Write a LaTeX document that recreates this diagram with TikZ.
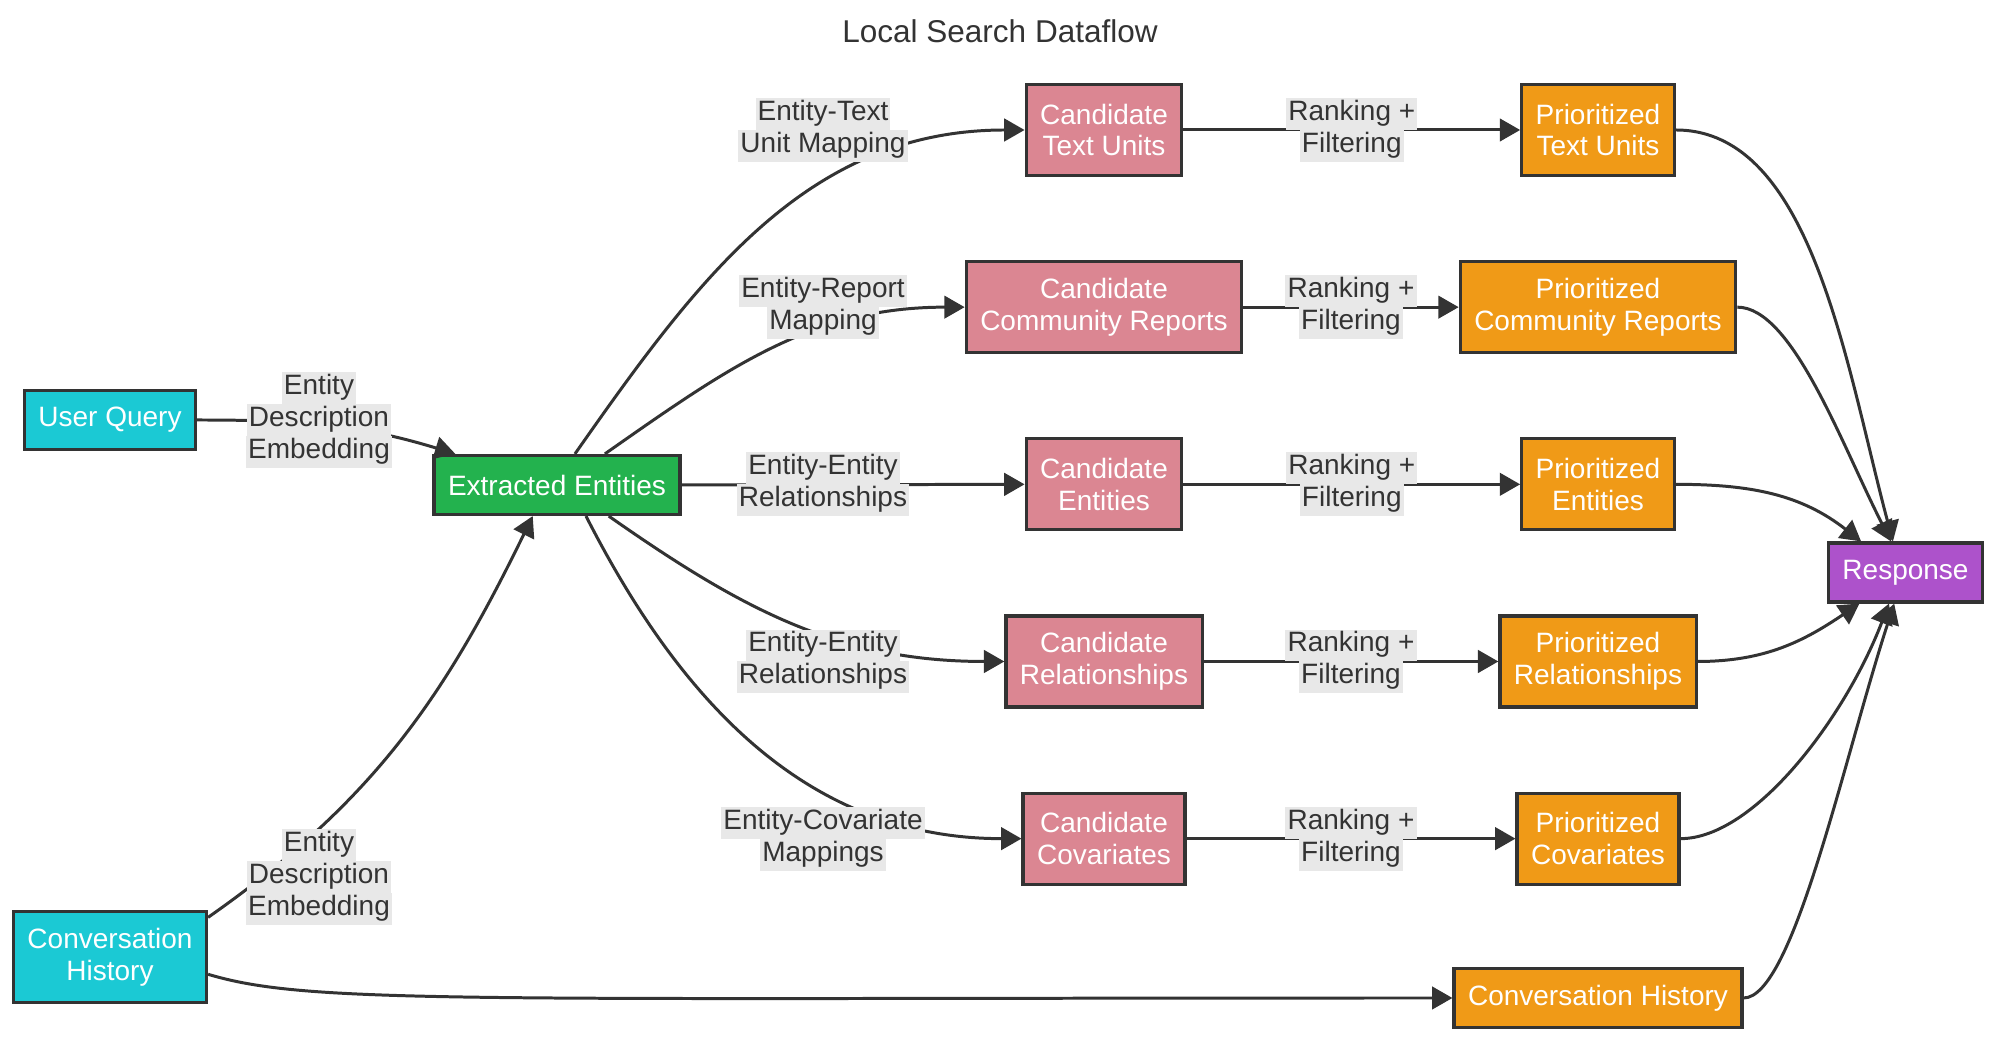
\documentclass[tikz,border=0pt]{standalone}
\usepackage{fontspec}
\setmainfont{Liberation Sans}
\usepackage{xcolor}
\usetikzlibrary{positioning,arrows.meta,calc}

\definecolor{qcyan}{HTML}{1BC9D4}
\definecolor{egreen}{HTML}{23B24E}
\definecolor{cpink}{HTML}{DB8692}
\definecolor{porange}{HTML}{F09A17}
\definecolor{rpurple}{HTML}{AD52CB}
\definecolor{linegray}{HTML}{333333}
\definecolor{lblbg}{HTML}{E8E8E8}

\newcommand{\lbl}[1]{{\setlength{\fboxsep}{0pt}\colorbox{lblbg}{\hspace{0.6pt}\strut #1\hspace{0.6pt}}}}

\begin{document}
\begin{tikzpicture}[>={Triangle[length=5.8pt,width=6.4pt]},
  every node/.style={font=\fontsize{7.97pt}{9.1pt}\selectfont},
  box/.style={draw=linegray,line width=0.9pt,rectangle,inner xsep=0.14cm,inner ysep=0pt,minimum height=0.59cm,align=center,text=white},
  tall/.style={box,minimum height=0.91cm},
  flow/.style={->,draw=linegray,line width=0.85pt},
  elabel/.style={inner sep=0pt,align=center,text=linegray}]
  % page
  \fill[white] (0,0) rectangle (20,10.45);
  \useasboundingbox (0,0) rectangle (20,10.45);

  \node[font=\fontsize{8.97pt}{10pt}\selectfont,text=linegray] (title) at (10.0,10.14) {Local Search Dataflow};

  % Inputs (left)
  \node[box,fill=qcyan] (uq) at (1.10,6.25) {User Query};
  \node[tall,fill=qcyan] (chl) at (1.10,0.88) {Conversation\\History};
  \node[box,fill=egreen] (ee) at (5.57,5.60) {Extracted Entities};

  % Candidates (middle)
  \node[tall,fill=cpink] (ctu) at (11.04,9.15) {Candidate\\Text Units};
  \node[tall,fill=cpink,below=0.83cm of ctu] (ccr) {Candidate\\Community Reports};
  \node[tall,fill=cpink,below=0.83cm of ccr] (ce) {Candidate\\Entities};
  \node[tall,fill=cpink,below=0.83cm of ce] (cr) {Candidate\\Relationships};
  \node[tall,fill=cpink,below=0.83cm of cr] (ccov) {Candidate\\Covariates};

  % Prioritized (right)
  \coordinate (pcol) at (15.98,0);
  \node[tall,fill=porange] (ptu) at (pcol |- ctu) {Prioritized\\Text Units};
  \node[tall,fill=porange] (pcr) at (pcol |- ccr) {Prioritized\\Community Reports};
  \node[tall,fill=porange] (pe) at (pcol |- ce) {Prioritized\\Entities};
  \node[tall,fill=porange] (pr) at (pcol |- cr) {Prioritized\\Relationships};
  \node[tall,fill=porange] (pcov) at (pcol |- ccov) {Prioritized\\Covariates};
  \node[box,fill=porange] (chr) at (15.98,0.47) {Conversation History};

  \node[box,fill=rpurple] (resp) at (19.055,4.725) {Response};

  % label columns
  \coordinate (qc) at (3.19,0);
  \coordinate (lc) at (8.23,0);

  % Connections
  \draw[flow] (uq.east) to[out=0,in=163] (ee.163)
    node[elabel] at (qc |- uq) {\lbl{Entity}\\\lbl{Description}\\\lbl{Embedding}};
  \draw[flow] (chl.22) to[out=35,in=-116] (ee.232)
    node[elabel] at (3.19,1.68) {\lbl{Entity}\\\lbl{Description}\\\lbl{Embedding}};
  \draw[flow] (ee.60) to[out=55,in=180] (ctu.west)
    node[elabel] at (lc |- ctu) {\lbl{Entity-Text}\\\lbl{Unit Mapping}};
  \draw[flow] (ee.33) to[out=35,in=180] (ccr.west)
    node[elabel] at (lc |- ccr) {\lbl{Entity-Report}\\\lbl{Mapping}};
  \draw[flow] (ee.east) -- (ce.west)
    node[elabel] at (lc |- ce) {\lbl{Entity-Entity}\\\lbl{Relationships}};
  \draw[flow] (ee.-31) to[out=-35,in=180] (cr.west)
    node[elabel] at (lc |- cr) {\lbl{Entity-Entity}\\\lbl{Relationships}};
  \draw[flow] (ee.-47) to[out=-63,in=180] (ccov.west)
    node[elabel] at (lc |- ccov) {\lbl{Entity-Covariate}\\\lbl{Mappings}};

  \foreach \c/\p in {ctu/ptu,ccr/pcr,ce/pe,cr/pr,ccov/pcov}
    \draw[flow] (\c.east) -- (\p.west) node[elabel,midway] {\lbl{Ranking +}\\\lbl{Filtering}};

  \draw[flow] (ptu.east) to[out=0,in=105,out looseness=0.75] (resp.112);
  \draw[flow] (pcr.east) to[out=0,in=117,out looseness=0.5] (resp.115);
  \draw[flow] (pe.east) to[out=0,in=142] (resp.145);
  \draw[flow] (pr.east) to[out=0,in=-146] (resp.-146);
  \draw[flow] (pcov.east) to[out=0,in=-111,out looseness=0.6] (resp.-118);
  \draw[flow] (chr.east) to[out=0,in=-108,out looseness=0.3] (resp.-110);
  \draw[flow] (chl.-10) .. controls +(1.0,-0.3) and +(-10,0) .. (chr.west);
\end{tikzpicture}
\end{document}
